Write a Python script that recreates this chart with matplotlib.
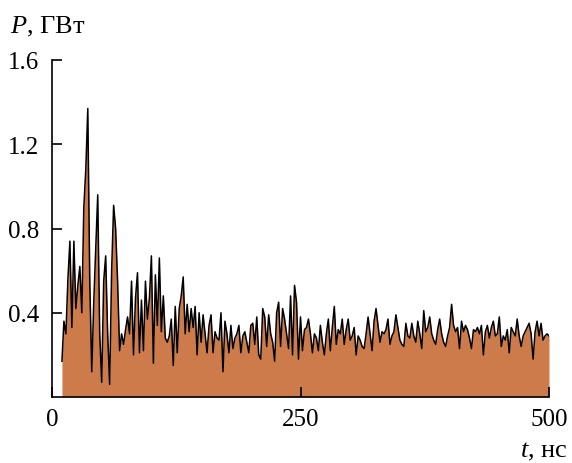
import numpy as np
import matplotlib
matplotlib.use("Agg")
import matplotlib.pyplot as plt

plt.rcParams['font.family'] = ['Liberation Serif', 'DejaVu Serif']
plt.rcParams['mathtext.fontset'] = 'custom'
plt.rcParams['mathtext.it'] = 'Liberation Serif:italic'
plt.rcParams['mathtext.rm'] = 'Liberation Serif'

p_start = [0.17, 0.36, 0.30, 0.56, 0.74, 0.33, 0.74, 0.42, 0.53, 0.62,
           0.40, 0.90, 1.08, 1.37, 0.55, 0.12, 0.45, 0.70, 0.96, 0.30,
           0.07, 0.55, 0.67, 0.30, 0.06, 0.60, 0.91, 0.80, 0.55, 0.22,
           0.30, 0.25, 0.32, 0.38]
p_early = [0.30, 0.55, 0.20, 0.47, 0.59, 0.21, 0.46, 0.22, 0.55, 0.37,
           0.47, 0.67, 0.16, 0.58, 0.34, 0.66, 0.31, 0.48, 0.28, 0.26,
           0.29, 0.37, 0.15, 0.43, 0.21, 0.42, 0.48, 0.57, 0.30, 0.44,
           0.31, 0.42, 0.33, 0.43, 0.20, 0.40]
p_mid = [0.26, 0.39, 0.30, 0.21, 0.34, 0.39, 0.21, 0.31, 0.28, 0.27,
         0.40, 0.12, 0.36, 0.30, 0.21, 0.34, 0.23, 0.28, 0.30, 0.34,
         0.21, 0.29, 0.31, 0.26, 0.21, 0.34, 0.35, 0.25, 0.38, 0.20,
         0.18, 0.42, 0.38, 0.24, 0.39]
p_bump = [0.30, 0.26, 0.17, 0.40, 0.45, 0.24, 0.42, 0.37, 0.30, 0.23,
          0.48, 0.20, 0.53, 0.45, 0.18, 0.38, 0.22, 0.32, 0.33, 0.37,
          0.30, 0.21, 0.30, 0.28, 0.22, 0.34, 0.26, 0.20, 0.30, 0.37,
          0.22, 0.33, 0.43, 0.25, 0.32]
p_late = [0.30, 0.37, 0.25, 0.32, 0.37, 0.27, 0.29, 0.33, 0.20, 0.29,
          0.27, 0.24, 0.23, 0.30, 0.38, 0.30, 0.22, 0.36, 0.42, 0.34,
          0.26, 0.31, 0.30, 0.32, 0.37, 0.25, 0.29, 0.31, 0.39, 0.33,
          0.27, 0.25, 0.24, 0.35, 0.29]
p_tail1 = [0.28, 0.35, 0.29, 0.26, 0.36, 0.30, 0.23, 0.41, 0.31, 0.33,
           0.38, 0.30, 0.27, 0.25, 0.32, 0.37, 0.30, 0.26, 0.24, 0.29,
           0.33, 0.44, 0.34, 0.31, 0.33, 0.23, 0.36, 0.31, 0.34, 0.32,
           0.28, 0.23, 0.32, 0.31, 0.33]
p_tail2 = [0.30, 0.34, 0.20, 0.31, 0.34, 0.28, 0.33, 0.36, 0.29, 0.30,
           0.38, 0.24, 0.29, 0.27, 0.32, 0.21, 0.33, 0.31, 0.29, 0.37,
           0.29, 0.24, 0.29, 0.31, 0.33, 0.35, 0.30, 0.18, 0.31, 0.36,
           0.29, 0.35, 0.27, 0.29, 0.30, 0.29]

power = np.array(p_start + p_early + p_mid + p_bump + p_late + p_tail1 + p_tail2)
t_ns = np.arange(10, 10 + 2 * len(power), 2)

x_ticks = [0, 250, 500]
y_ticks = [0.4, 0.8, 1.2, 1.6]

fig = plt.figure(figsize=(5.72, 4.64), dpi=100)
ax = fig.add_axes([52 / 572, 66 / 464, 497 / 572, 337 / 464])

ax.fill_between(t_ns, 0, power, color='#CD7B4A', lw=0)
ax.plot(t_ns, power, color='black', lw=1.1)

ax.set_xlim(0, 500)
ax.set_ylim(0, 1.6)
ax.set_xticks(x_ticks)
ax.set_xticklabels([str(v) for v in x_ticks])
ax.set_yticks(y_ticks)
ax.set_yticklabels([str(v) for v in y_ticks])

for s in ['top', 'right']:
    ax.spines[s].set_visible(False)
for s in ['left', 'bottom']:
    ax.spines[s].set_linewidth(1.2)
ax.tick_params(direction='in', length=7, width=1.2, labelsize=18)
ax.tick_params(axis='x', pad=8)
ax.tick_params(axis='y', pad=9)

fig.text(10 / 572, 1 - 33 / 464, '$P$, ГВт', fontsize=19, ha='left', va='baseline')
fig.text(568 / 572, 1 - 457 / 464, '$t$, нс', fontsize=19, ha='right', va='baseline')

fig.savefig('out.png', dpi=100)
